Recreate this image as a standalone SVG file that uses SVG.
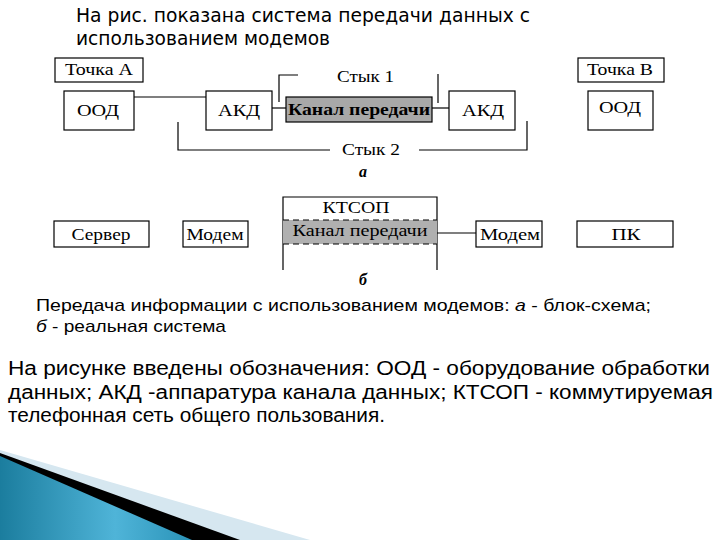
<svg xmlns="http://www.w3.org/2000/svg" width="720" height="540" viewBox="0 0 720 540">
<style>
.box{fill:#fff;stroke:#000;stroke-width:1.2}
.ch{fill:#a8a8a8;stroke:#000;stroke-width:1.2}
.t{font-family:"Liberation Serif","Times New Roman",serif;font-size:16px;fill:#000}
.tb{font-family:"Liberation Serif","Times New Roman",serif;font-size:16px;font-weight:bold;fill:#000}
.ln{stroke:#000;stroke-width:1.2;fill:none}
.h{font-family:"DejaVu Sans",Verdana,sans-serif;font-size:19px;fill:#000}
.c{font-family:"Liberation Sans",Arial,sans-serif;font-size:17px;fill:#000}
.p{font-family:"Liberation Sans",Arial,sans-serif;font-size:20px;fill:#000}
</style>
<defs>
<linearGradient id="bl" x1="0" y1="0" x2="1" y2="0">
<stop offset="0" stop-color="#1b7d9e"/>
<stop offset="0.6" stop-color="#4fb4d8"/>
<stop offset="1" stop-color="#2a93b8"/>
</linearGradient>
</defs>
<rect width="720" height="540" fill="#fff"/>

<text class="h" x="76" y="22" textLength="454" lengthAdjust="spacingAndGlyphs">На рис. показана система передачи данных с</text>
<text class="h" x="76" y="45" textLength="254" lengthAdjust="spacingAndGlyphs">использованием модемов</text>

<g id="connectors">
<line class="ln" x1="134" y1="97" x2="206" y2="97"/>
<line class="ln" x1="272" y1="108" x2="286" y2="108"/>
<line class="ln" x1="432" y1="108" x2="449" y2="108"/>
<polyline class="ln" points="298,75 279,75 279,102"/>
<line class="ln" x1="438" y1="74" x2="438" y2="103"/>
<polyline class="ln" points="178,122 178,150 330,150"/>
<polyline class="ln" points="419,150 527,150 527,121"/>
<line class="ln" x1="437" y1="233" x2="476" y2="233"/>
</g>

<g id="pointA"><rect class="box" x="55" y="58" width="88" height="24"/><text class="t" x="99" y="75" text-anchor="middle" textLength="68" lengthAdjust="spacingAndGlyphs">Точка А</text></g>
<g id="oodA"><rect class="box" x="64" y="91" width="70" height="39"/><text class="t" x="98" y="116" text-anchor="middle" textLength="42" lengthAdjust="spacingAndGlyphs">ООД</text></g>
<g id="akdA"><rect class="box" x="206" y="91" width="66" height="39"/><text class="t" x="239" y="116" text-anchor="middle" textLength="42" lengthAdjust="spacingAndGlyphs">АКД</text></g>
<g id="channelA"><rect class="ch" x="286" y="97" width="146" height="25"/><text class="tb" x="359" y="115" text-anchor="middle" textLength="142" lengthAdjust="spacingAndGlyphs">Канал передачи</text></g>
<g id="akdB"><rect class="box" x="449" y="91" width="66" height="39"/><text class="t" x="483" y="116" text-anchor="middle" textLength="42" lengthAdjust="spacingAndGlyphs">АКД</text></g>
<g id="oodB"><rect class="box" x="588" y="91" width="65" height="39"/><text class="t" x="620" y="113" text-anchor="middle" textLength="42" lengthAdjust="spacingAndGlyphs">ООД</text></g>
<g id="pointB"><rect class="box" x="578" y="58" width="86" height="24"/><text class="t" x="620" y="75" text-anchor="middle" textLength="66" lengthAdjust="spacingAndGlyphs">Точка В</text></g>
<g id="styk1"><text class="t" x="337" y="82" textLength="57" lengthAdjust="spacingAndGlyphs">Стык 1</text></g>
<g id="styk2"><text class="t" x="342" y="155" textLength="58" lengthAdjust="spacingAndGlyphs">Стык 2</text></g>
<text class="tb" x="363" y="177" text-anchor="middle" font-style="italic">а</text>

<g id="server"><rect class="box" x="54" y="221" width="95" height="26"/><text class="t" x="101" y="240" text-anchor="middle" textLength="59" lengthAdjust="spacingAndGlyphs">Сервер</text></g>
<g id="modemA"><rect class="box" x="183" y="221" width="65" height="26"/><text class="t" x="215" y="240" text-anchor="middle" textLength="57" lengthAdjust="spacingAndGlyphs">Модем</text></g>
<g id="ktsop">
<polyline class="ln" points="283,270 283,197 437,197 437,270"/>
<text class="t" x="356" y="213" text-anchor="middle" textLength="67" lengthAdjust="spacingAndGlyphs">КТСОП</text>
<rect x="283" y="220" width="154" height="24" fill="#b0b0b0"/>
<line class="ln" x1="283" y1="220" x2="437" y2="220" stroke-dasharray="6,4"/>
<line class="ln" x1="283" y1="244" x2="437" y2="244" stroke-dasharray="6,4"/>
<text class="t" x="360" y="236" text-anchor="middle" textLength="135" lengthAdjust="spacingAndGlyphs">Канал передачи</text>
</g>
<g id="modemB"><rect class="box" x="476" y="221" width="66" height="26"/><text class="t" x="510" y="240" text-anchor="middle" textLength="60" lengthAdjust="spacingAndGlyphs">Модем</text></g>
<g id="pc"><rect class="box" x="577" y="221" width="96" height="26"/><text class="t" x="626" y="240" text-anchor="middle" textLength="29" lengthAdjust="spacingAndGlyphs">ПК</text></g>
<text class="tb" x="363" y="285" text-anchor="middle" font-style="italic">б</text>

<text class="c" x="36" y="311" textLength="615" lengthAdjust="spacingAndGlyphs">Передача информации с использованием модемов: <tspan font-style="italic">а</tspan> - блок-схема;</text>
<text class="c" x="36" y="332" textLength="190" lengthAdjust="spacingAndGlyphs"><tspan font-style="italic">б</tspan> - реальная система</text>

<text class="p" x="8" y="375" textLength="702" lengthAdjust="spacingAndGlyphs">На рисунке введены обозначения: ООД - оборудование обработки</text>
<text class="p" x="8" y="399" textLength="705" lengthAdjust="spacingAndGlyphs">данных; АКД -аппаратура канала данных; КТСОП - коммутируемая</text>
<text class="p" x="8" y="422" textLength="377" lengthAdjust="spacingAndGlyphs">телефонная сеть общего пользования.</text>

<polygon points="0,450 310,540 0,540" fill="#d6e7f0"/>
<polygon points="0,453 240,540 0,540" fill="#000"/>
<polygon points="0,456 192,540 0,540" fill="url(#bl)"/>
</svg>
